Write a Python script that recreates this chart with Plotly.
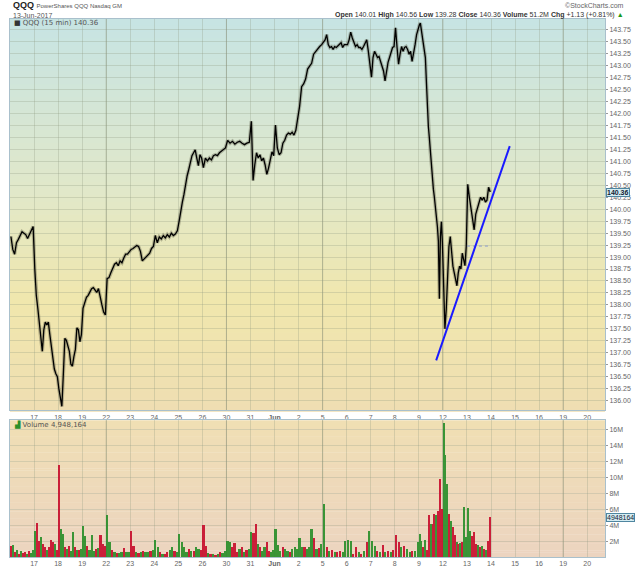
import datetime as dt
import plotly.graph_objects as go

# trading days on the chart (16 May - 13 Jun 2017) plus the empty days up to the right edge
dates = [
    "2017-05-16", "2017-05-17", "2017-05-18", "2017-05-19", "2017-05-22", "2017-05-23",
    "2017-05-24", "2017-05-25", "2017-05-26", "2017-05-30", "2017-05-31", "2017-06-01",
    "2017-06-02", "2017-06-05", "2017-06-06", "2017-06-07", "2017-06-08", "2017-06-09",
    "2017-06-12", "2017-06-13", "2017-06-14", "2017-06-15", "2017-06-16", "2017-06-19",
    "2017-06-20",
]

# QQQ 15 min prices
price_by_day = [
    [139.43, 139.16, 139.06, 139.3, 139.37, 139.47, 139.53, 139.5, 139.47, 139.39, 139.47, 139.57, 139.64],
    [138.75, 138.2, 137.93, 137.58, 137.23, 137.03, 137.48, 137.64, 137.58, 137.64, 137.38, 137.13, 136.86, 136.66, 136.56, 136.5],
    [136.25, 136.04, 135.88, 136.56, 137.3, 137.26, 137.13, 137.03, 136.76, 136.72, 136.92, 137.07, 137.52, 137.48, 137.23, 137.38],
    [137.93, 138.05, 138.16, 138.2, 138.28, 138.34, 138.36, 138.3, 138.26, 138.34, 138.2, 138.0, 137.85, 137.79],
    [138.55, 138.57, 138.67, 138.75, 138.85, 138.88, 138.82, 138.92, 138.88, 138.98, 139.06, 139.06, 139.12],
    [139.16, 139.18, 139.22, 139.24, 139.22, 139.12, 138.92, 138.96, 138.98, 139.02, 139.08, 139.18, 139.22],
    [139.45, 139.3, 139.42, 139.38, 139.45, 139.4, 139.47, 139.42, 139.5, 139.45, 139.48, 139.55],
    [139.75, 140.0, 140.15, 140.31, 140.56, 140.7, 140.83, 141.01, 141.12, 141.18, 141.24, 141.07, 140.91, 141.14, 141.07],
    [140.87, 141.07, 141.01, 141.07, 141.03, 141.12, 141.14, 141.12, 141.18, 141.22, 141.24, 141.28],
    [141.44, 141.38, 141.42, 141.36, 141.4, 141.42, 141.38, 141.35, 141.38, 141.4],
    [141.84, 140.6, 140.93, 141.18, 141.07, 141.14, 141.01, 141.07, 140.93, 140.73, 140.86, 141.01, 141.2, 141.12],
    [141.76, 141.28, 141.14, 141.18, 141.38, 141.44, 141.55, 141.59, 141.57, 141.61, 141.55, 141.65, 141.9],
    [142.15, 142.56, 142.62, 142.72, 142.93, 142.99, 143.05, 143.24, 143.3, 143.36, 143.4, 143.44],
    [143.5, 143.54, 143.65, 143.44, 143.38, 143.4, 143.34, 143.4, 143.38, 143.42, 143.44, 143.48, 143.38, 143.44, 143.44],
    [143.44, 143.54, 143.7, 143.58, 143.5, 143.4, 143.44, 143.38, 143.38, 143.34, 143.4, 143.48, 143.54, 143.3, 143.03],
    [142.76, 143.17, 143.3, 143.24, 143.17, 143.19, 143.09, 143.03, 142.89, 142.68, 142.93, 143.07, 143.17, 143.3, 143.38, 143.4],
    [143.79, 143.38, 143.03, 143.24, 143.4, 143.3, 143.38, 143.4, 143.34, 143.24, 143.3, 143.09, 143.24, 143.44, 143.65, 143.79],
    [143.85, 143.89, 143.75, 143.65, 143.5, 143.38, 143.17, 142.68, 142.15, 141.73, 141.49, 141.18, 140.93, 140.56,
     140.42, 140.25, 140.05, 139.9, 139.64, 139.33, 138.13, 139.43, 139.74, 139.3],
    [138.2, 137.5, 137.9, 138.75, 139.22, 139.43, 139.0, 138.81, 138.67, 138.54, 138.4, 138.67, 138.81, 138.75, 139.08, 138.95, 138.82, 139.23],
    [140.52, 140.25, 140.05, 139.84, 139.57, 139.9, 140.0, 140.11, 140.25, 140.19, 140.25, 140.15, 140.19, 140.46, 140.36],
]

# volume in millions, with up (g) / down (r) bar colour per bar
vol_by_day = [
    [1.4, 1.5, 0.6, 0.8, 0.4, 0.7, 0.5, 0.6, 0.4, 0.7, 0.5, 0.8],
    [3.3, 4.2, 2.0, 2.5, 1.65, 1.2, 0.8, 1.2, 2.1, 1.9, 1.65, 0.9],
    [11.5, 3.55, 2.8, 1.2, 1.0, 1.4, 0.7, 3.1, 1.24, 0.9, 0.8, 1.0],
    [3.9, 2.6, 1.4, 0.8, 2.7, 0.7, 1.0, 1.1, 2.7, 1.6, 1.3],
    [5.3, 1.8, 0.8, 0.55, 0.45, 0.5, 0.55, 1.1, 0.55, 0.6],
    [3.3, 1.4, 0.6, 0.45, 0.6, 0.75, 0.6, 0.55, 0.66, 0.9],
    [2.1, 1.2, 0.55, 0.4, 0.33, 0.55, 0.83, 1.2, 0.7, 0.6],
    [2.9, 1.8, 1.24, 0.55, 0.95, 0.66, 0.75, 1.2, 0.95, 0.8],
    [4.0, 1.4, 0.45, 0.33, 0.33, 0.25, 0.4, 0.55, 0.5, 0.7],
    [2.0, 1.8, 1.24, 1.7, 0.55, 0.95, 1.2, 0.55, 0.83, 0.95],
    [3.1, 3.0, 4.1, 1.6, 1.2, 0.75, 1.2, 1.9, 0.75, 0.55, 0.9],
    [3.5, 1.5, 0.75, 1.2, 0.95, 0.75, 0.55, 0.95, 1.2, 1.0],
    [2.4, 1.24, 1.2, 0.95, 1.2, 3.55, 2.4, 0.95, 1.1, 1.6],
    [6.7, 1.2, 0.75, 0.8, 0.55, 0.55, 0.66, 0.55, 2.0],
    [2.1, 2.0, 0.4, 1.24, 0.55, 0.4, 0.75, 1.8, 3.3],
    [2.0, 1.4, 0.75, 0.55, 1.5, 0.55, 0.66, 0.55, 0.8],
    [2.7, 1.8, 1.2, 1.4, 0.95, 0.55, 0.75, 0.66, 1.8],
    [2.9, 2.0, 1.2, 2.1, 0.83, 5.3, 4.1, 4.1, 5.4, 5.2, 5.8, 9.8, 6.0],
    [16.8, 12.8, 9.2, 5.4, 4.5, 3.8, 2.7, 1.8, 1.6, 1.7, 1.8, 6.3, 2.5],
    [6.1, 3.3, 2.6, 3.1, 1.65, 1.5, 1.24, 1.4, 0.95, 0.83, 2.0, 4.948164],
]
vol_dir_by_day = [
    "rgrgrgrrgrgg", "grrgrrgrrrgr", "rggrgrggrgrg", "ggrgggrgrrr", "ggrgrggrgg",
    "rrgrgrggrg", "ggrgrrggrg", "ggggrgrggr", "rrgrgrgrgg", "ggrrrgrgrg",
    "grrgrggrrgg", "gggrggrggg", "ggrgggrgrg", "grgrgrrgg", "ggrrgrgrg",
    "ggrgrgrgr", "rrgrggrgg", "ggrgrrgrrgrrr", "gggrgrrgrgrgg", "ggrrrgrgrgrr",
]

last_close = 140.36
prev_close = 139.23
last_volume = 4948164
volume_ticks = [2, 4, 6, 8, 10, 12, 14, 16]

# hand-drawn trend line (day units, price)
trend_x = [17.72, 20.78]
trend_y = [136.84, 141.32]

days = [dt.date.fromisoformat(s) for s in dates]
tickvals, ticktext = [], []
for i, d in enumerate(days):
    if i == 0:
        continue
    tickvals.append(i)
    ticktext.append("<b>Jun</b>" if d.day == 1 else str(d.day))
week_starts = [i for i in range(1, len(days)) if days[i].weekday() < days[i - 1].weekday()]

px_x, px_y = [], []
for d, closes in enumerate(price_by_day):
    n = len(closes)
    for k, c in enumerate(closes):
        px_x.append(d + (k + 0.5) / n)
        px_y.append(c)

GREEN, RED = "#2b8f2b", "#c8102e"
vx, vy, vw, vc = [], [], [], []
for d, (vols, dirs) in enumerate(zip(vol_by_day, vol_dir_by_day)):
    n = len(vols)
    for k, (v, s) in enumerate(zip(vols, dirs)):
        vx.append(d + (k + 0.5) / n)
        vy.append(v)
        vw.append(0.75 / n)
        vc.append(GREEN if s == "g" else RED)

fig = go.Figure()
fig.add_trace(go.Scatter(x=px_x, y=px_y, mode="lines", line=dict(color="rgba(80,80,60,0.35)", width=3.5),
                         hoverinfo="skip", xaxis="x", yaxis="y"))
fig.add_trace(go.Scatter(x=px_x, y=px_y, mode="lines", line=dict(color="black", width=1.3),
                         xaxis="x", yaxis="y"))
fig.add_trace(go.Scatter(x=[19, 20], y=[prev_close, prev_close], mode="lines",
                         line=dict(color="#8c9ccc", width=1, dash="dot"), xaxis="x", yaxis="y"))
fig.add_trace(go.Scatter(x=trend_x, y=trend_y, mode="lines", line=dict(color="#1a1aff", width=2),
                         xaxis="x", yaxis="y"))
fig.add_trace(go.Bar(x=vx, y=vy, width=vw, marker=dict(color=vc, line_width=0), opacity=0.92,
                     xaxis="x2", yaxis="y2"))

# panel geometry in pixels -> paper fractions
W, H = 640, 576
L, R, T, B = 9, 33, 19, 10
ph = H - T - B
def py(y):
    return (H - B - y) / ph
def pxp(x):
    return (x - L) / (W - L - R)

price_dom = [py(417), 1]
vol_dom = [0, py(427)]

shapes = []
def blend(stops, t):
    for (t0, c0), (t1, c1) in zip(stops, stops[1:]):
        if t <= t1:
            f = (t - t0) / (t1 - t0)
            return "rgb(%d,%d,%d)" % tuple(round(a + (b - a) * f) for a, b in zip(c0, c1))
    return "rgb(%d,%d,%d)" % stops[-1][1]

def gradient(xref, yref, stops, n=60):
    for i in range(n):
        t = (i + 0.5) / n
        shapes.append(dict(type="rect", xref=xref, yref=yref, x0=0, x1=1,
                           y0=1 - (i + 1) / n - 0.003, y1=1 - i / n,
                           fillcolor=blend(stops, t), line_width=0, layer="below"))

gradient("x domain", "y domain", [(0, (198, 228, 228)), (0.45, (226, 232, 200)),
                                  (0.72, (240, 231, 173)), (1, (239, 222, 178))])
gradient("x2 domain", "y2 domain", [(0, (240, 223, 180)), (1, (236, 212, 192))])

for i in week_starts:
    for yref in ("y domain", "y2 domain"):
        shapes.append(dict(type="line", xref="x" if yref == "y domain" else "x2", yref=yref,
                           x0=i, x1=i, y0=0, y1=1, line=dict(color="rgba(130,135,110,0.45)", width=1),
                           layer="below"))

FONT = "Liberation Sans, Arial, sans-serif"
grid = "rgba(140,150,125,0.28)"
border = "#a9c0cc"
axis_common = dict(showline=True, linecolor=border, linewidth=1, mirror=True, gridcolor=grid, gridwidth=1,
                   zeroline=False, tickfont=dict(size=7, color="#666", family=FONT))

fig.update_layout(
    width=W, height=H,
    margin=dict(l=L, r=R, t=T, b=B),
    paper_bgcolor="white", plot_bgcolor="rgba(0,0,0,0)",
    showlegend=False, bargap=0,
    shapes=shapes,
    xaxis=dict(domain=[0, 1], anchor="y", range=[0, 24.74], tickvals=tickvals, ticktext=ticktext,
               ticks="", **axis_common),
    xaxis2=dict(domain=[0, 1], anchor="y2", matches="x", range=[0, 24.74], tickvals=tickvals,
                ticktext=ticktext, ticks="", **axis_common),
    yaxis=dict(domain=price_dom, anchor="x", side="right", range=[135.794, 143.976], tick0=136, dtick=0.25,
               tickformat=".2f", ticks="outside", ticklen=2, tickcolor="#999", **axis_common),
    yaxis2=dict(domain=vol_dom, anchor="x2", side="right", range=[0, 17.22], tickvals=volume_ticks,
                ticktext=["%dM" % v for v in volume_ticks], ticks="outside", ticklen=2, tickcolor="#999",
                **axis_common),
)

ann = [
    dict(x=pxp(10), y=py(5), text="<b>QQQ</b> <span style='font-size:6px;color:#555'>PowerShares QQQ Nasdaq GM</span>",
         font=dict(size=9, color="#222", family=FONT), xanchor="left"),
    dict(x=pxp(10), y=py(15), text="13-Jun-2017", font=dict(size=7, color="#555", family=FONT), xanchor="left"),
    dict(x=pxp(628), y=py(5), text="©StockCharts.com", font=dict(size=7, color="#666", family=FONT), xanchor="right"),
    dict(x=pxp(628), y=py(14.5),
         text="<b>Open</b> 140.01 <b>High</b> 140.56 <b>Low</b> 139.28 <b>Close</b> 140.36 "
              "<b>Volume</b> 51.2M <b>Chg</b> +1.13 (+0.81%) <span style='color:#1a9a1a'>▲</span>",
         font=dict(size=7, color="#333", family=FONT), xanchor="right"),
    dict(x=pxp(11), y=py(23), text="<span style='color:#333'>■</span> QQQ (15 min) 140.36",
         font=dict(size=7, color="#555", family="DejaVu Sans"), xanchor="left"),
    dict(x=pxp(11), y=py(431), text="<span style='color:#2b8f2b'>▟</span> Volume 4,948,164",
         font=dict(size=7, color="#555", family="DejaVu Sans"), xanchor="left"),
    dict(x=1, xref="paper", y=last_close, yref="y", text="<b>%.2f</b>" % last_close, xanchor="left",
         font=dict(size=7, color="#123", family=FONT), bgcolor="#d4ecf2", bordercolor="#4f86a0",
         borderwidth=1, borderpad=0, xshift=1),
    dict(x=1, xref="paper", y=last_volume / 1e6, yref="y2", text="%d" % last_volume, xanchor="left",
         font=dict(size=7, color="#123", family=FONT), bgcolor="#d4ecf2", bordercolor="#4f86a0",
         borderwidth=1, borderpad=0, xshift=1),
]
for a in ann:
    a.setdefault("xref", "paper")
    a.setdefault("yref", "paper")
    a.setdefault("showarrow", False)
    a.setdefault("yanchor", "middle")
fig.update_layout(annotations=ann)

# the page's default body margin would shift the 640x576 figure; remove it
fig.write_html("out.html", config={"displayModeBar": False},
               post_script="document.body.style.margin='0';document.body.style.overflow='hidden';")
